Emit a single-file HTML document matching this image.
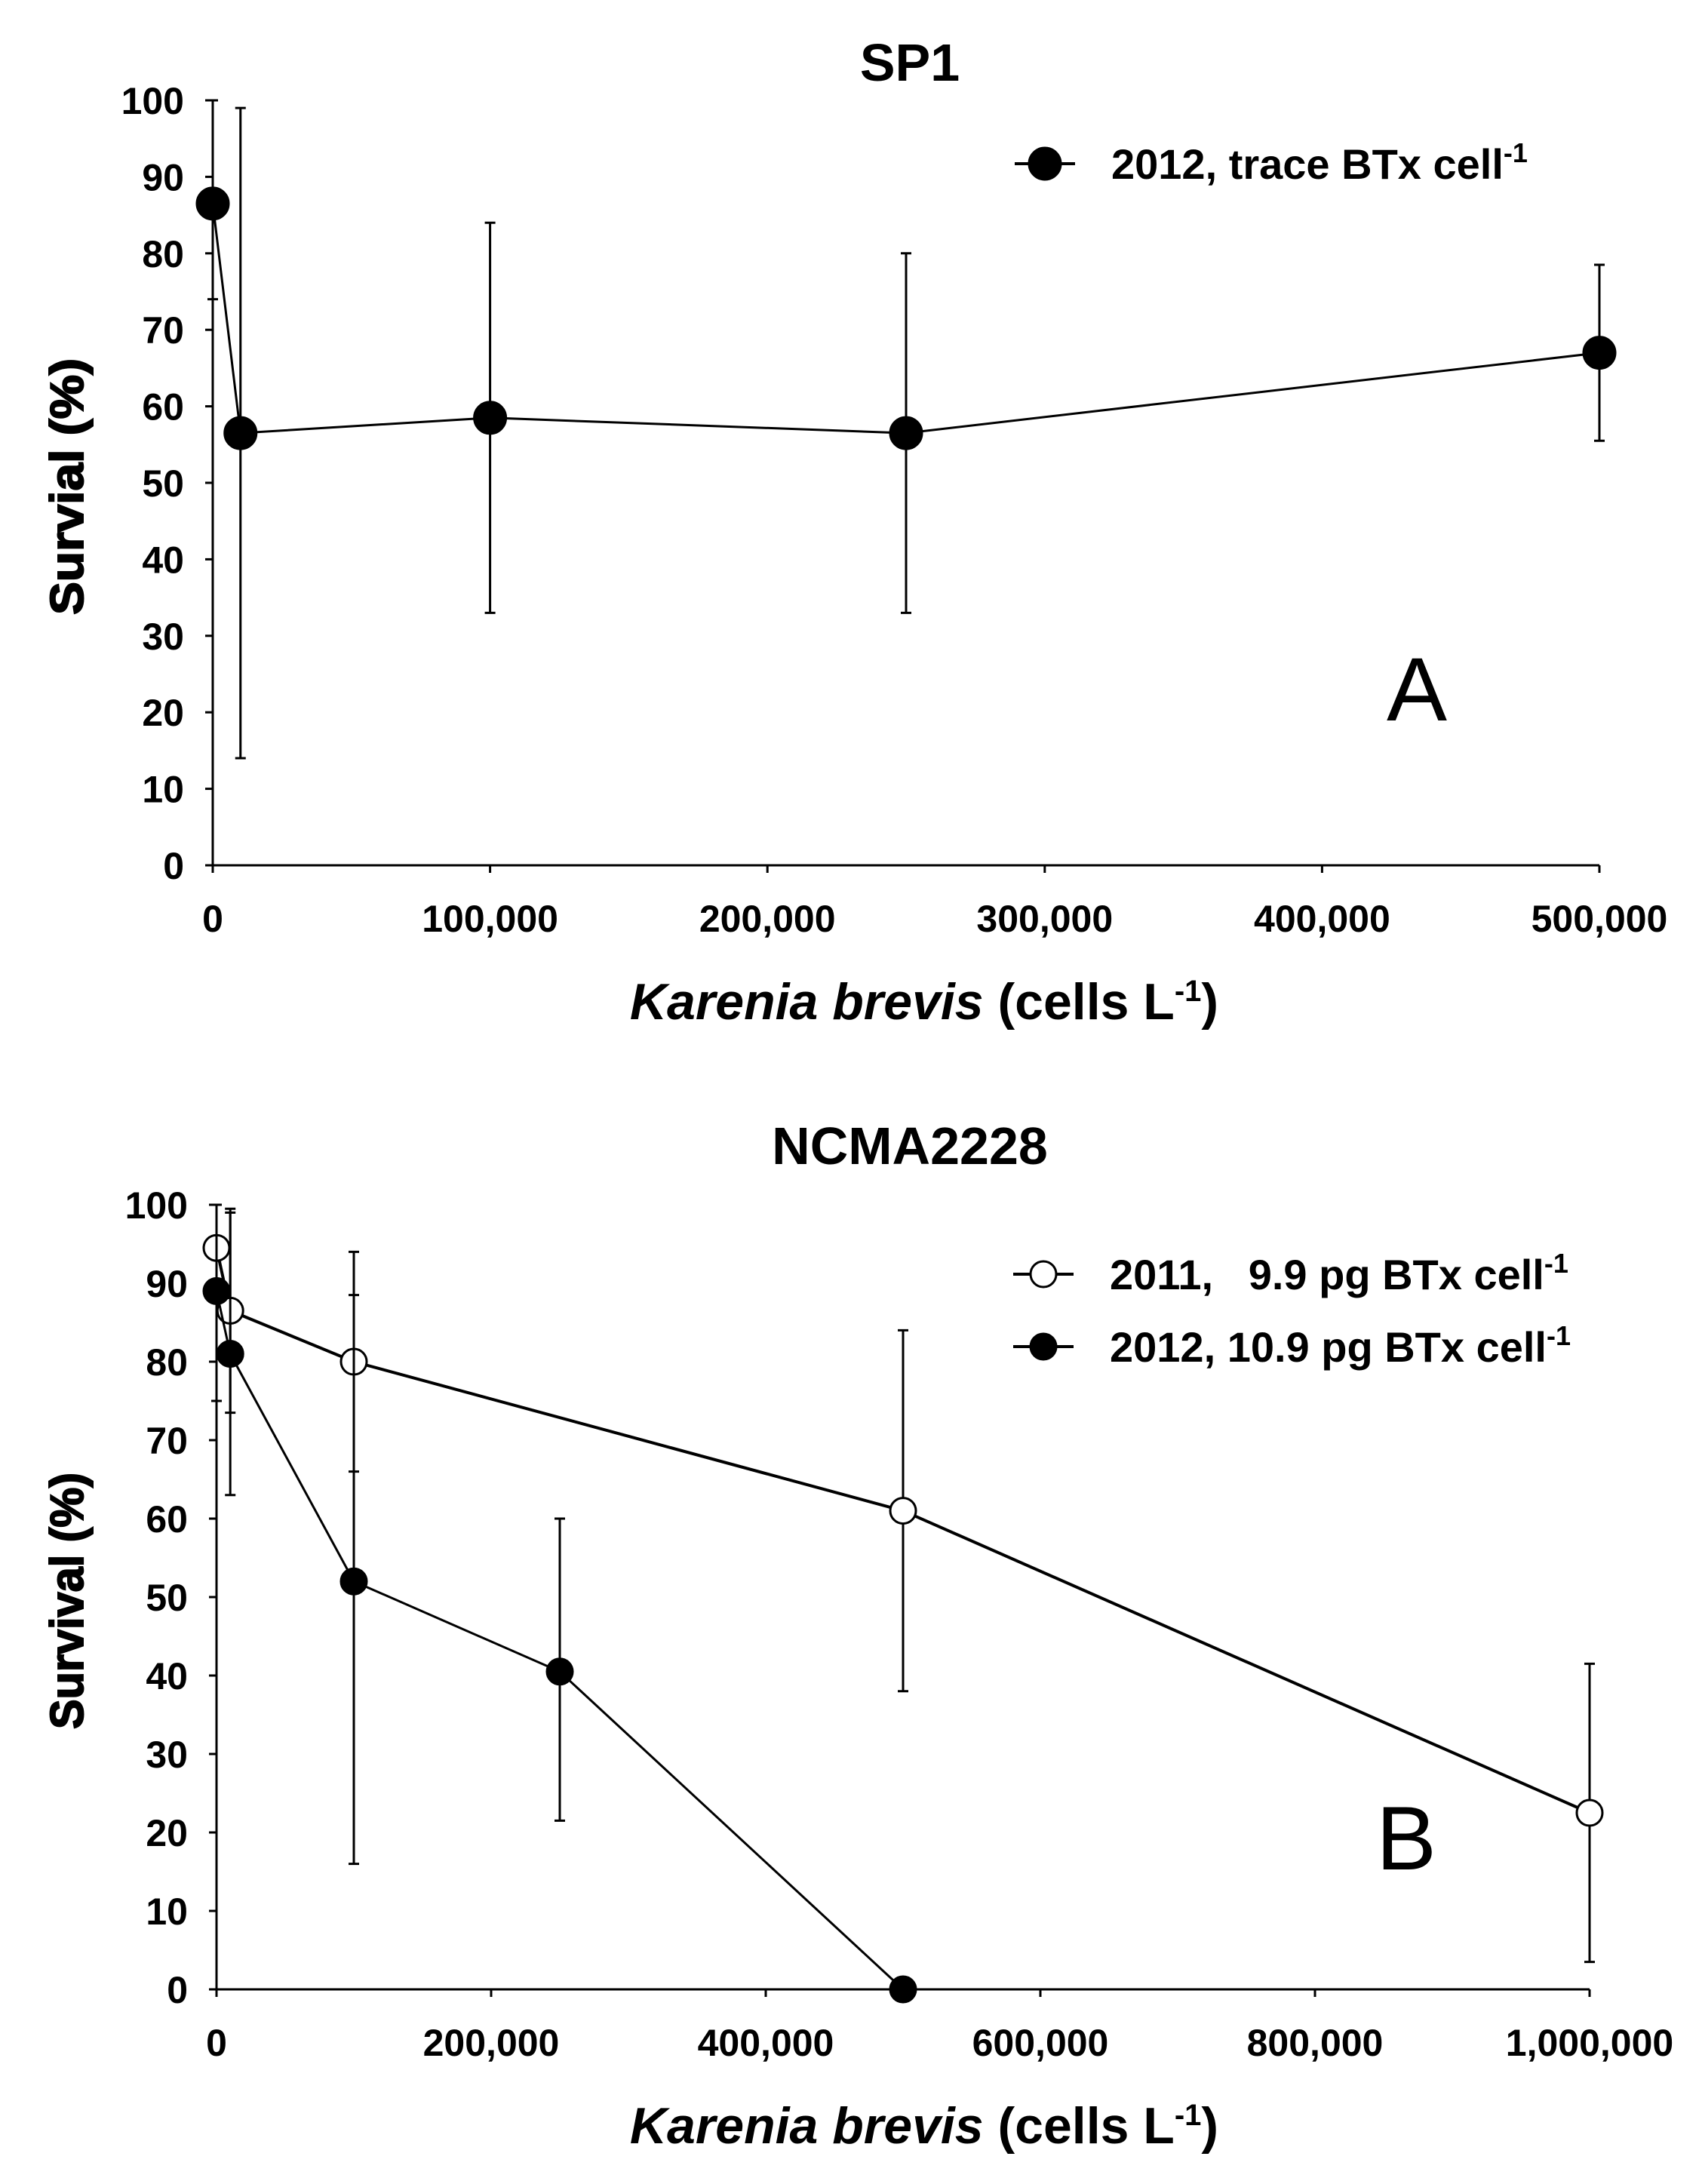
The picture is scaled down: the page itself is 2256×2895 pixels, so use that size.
<!DOCTYPE html>
<html><head><meta charset="utf-8"><style>
html,body{margin:0;padding:0;background:#fff;}
svg{display:block;font-family:"Liberation Sans Narrow","Liberation Sans",Arial,sans-serif;}
text{white-space:pre;}
</style></head><body>
<svg id="chart" width="2256" height="2895" viewBox="0 0 2256 2895" xmlns="http://www.w3.org/2000/svg"></svg>
<script>
// Panel A data
const aX = [0, 10000, 100000, 250000, 500000];
const aY = [86.5, 56.5, 58.5, 56.5, 67];
const aLo = [74, 14, 33, 33, 55.5];
const aHi = [100, 99, 84, 80, 78.5];
const aXTicks = [0, 100000, 200000, 300000, 400000, 500000];
const aXTickLabels = ["0", "100,000", "200,000", "300,000", "400,000", "500,000"];
// Panel B data
const bX2011 = [0, 10000, 100000, 500000, 1000000];
const bY2011 = [94.5, 86.5, 80, 61, 22.5];
const bLo2011 = [89, 73.5, 66, 38, 3.5];
const bHi2011 = [100, 99.5, 94, 84, 41.5];
const bX2012 = [0, 10000, 100000, 250000, 500000];
const bY2012 = [89, 81, 52, 40.5, 0];
const bLo2012 = [75, 63, 16, 21.5, 0];
const bHi2012 = [100, 99, 88.5, 60, 0];
const bXTicks = [0, 200000, 400000, 600000, 800000, 1000000];
const bXTickLabels = ["0", "200,000", "400,000", "600,000", "800,000", "1,000,000"];
const yTicks = [0,10,20,30,40,50,60,70,80,90,100];

const svg = document.getElementById('chart');
const NS = "http://www.w3.org/2000/svg";
function mk(tag, attrs, parent){
  const e = document.createElementNS(NS, tag);
  for (const k in attrs) e.setAttribute(k, attrs[k]);
  (parent||svg).appendChild(e);
  return e;
}
function txt(s, x, y, size, anchor, parent, weight){
  const t = mk('text', {x:x, y:y, 'font-size':size, 'text-anchor':anchor||'middle', 'font-weight':weight||'bold', fill:'#000'}, parent);
  t.textContent = s;
  return t;
}

function panel(cfg){
  const g = mk('g', {});
  
  
  const sx = v => cfg.x0 + v / cfg.xMax * (cfg.x1 - cfg.x0);
  const sy = v => cfg.y0 - v / 100 * (cfg.y0 - cfg.y1);
  const ax = mk('line', {x1:cfg.x0, y1:cfg.y0, x2:cfg.x1, y2:cfg.y0, stroke:'#000', 'stroke-width':3}, g);
  
  
  const ay = mk('line', {x1:cfg.x0, y1:cfg.y0, x2:cfg.x0, y2:cfg.y1, stroke:'#000', 'stroke-width':3}, g);
  
  
  yTicks.forEach(v => {
    mk('line', {x1:cfg.x0-10, y1:sy(v), x2:cfg.x0, y2:sy(v), stroke:'#000', 'stroke-width':3}, g);
    const t = txt(String(v), cfg.x0-38, sy(v)+18, 50, 'end', g);
    
    
  });
  cfg.xTicks.forEach((v, i) => {
    mk('line', {x1:sx(v), y1:cfg.y0, x2:sx(v), y2:cfg.y0+10, stroke:'#000', 'stroke-width':3}, g);
    const t = txt(cfg.xLabels[i], sx(v), cfg.y0+88, 50, 'middle', g);
    
    
  });
  const ti = txt(cfg.title, cfg.titleX, cfg.titleY, 70, 'middle', g);
  
  
  const yt = mk('text', {x:0, y:0, 'font-size':62, 'font-weight':'bold', 'text-anchor':'middle', 'font-family':'"Liberation Sans",Arial,sans-serif', stroke:'#000', 'stroke-width':2, textLength:340, lengthAdjust:'spacingAndGlyphs', transform:'translate(110,'+((cfg.y0+cfg.y1)/2+5)+') rotate(-90)'}, g);
  yt.textContent = cfg.yTitle;
  
  
  const xt = mk('text', {x:1225, y:cfg.y0+204, 'font-size':68, 'font-weight':'bold', 'text-anchor':'middle'}, g);
  xt.innerHTML = '<tspan font-style="italic">Karenia brevis</tspan> (cells L<tspan dy="-24" font-size="40">-1</tspan><tspan dy="24">)</tspan>';
  
  
  const pl = txt(cfg.letter, cfg.letterX, cfg.letterY, 120, 'middle', g, 'normal');
  
  
  cfg.series.forEach((s, si) => {
    const sg = mk('g', {}, g);
    
    
    s.x.forEach((xv, i) => {
      const X = sx(xv);
      if (s.hi[i] !== s.lo[i]) {
        const e = mk('path', {d:`M${X},${sy(s.lo[i])}V${sy(s.hi[i])}M${X-7},${sy(s.lo[i])}H${X+7}M${X-7},${sy(s.hi[i])}H${X+7}`, stroke:'#000', 'stroke-width':3, fill:'none'}, sg);
        
        
      }
    });
    const pts = s.x.map((xv,i)=>sx(xv)+','+sy(s.y[i])).join(' ');
    const pl2 = mk('polyline', {points:pts, fill:'none', stroke:'#000', 'stroke-width':s.lw}, sg);
    
    
    s.x.forEach((xv, i) => {
      const c = mk('circle', {cx:sx(xv), cy:sy(s.y[i]), r:cfg.r, fill:s.fill, stroke:'#000', 'stroke-width':3}, sg);
      
      
    });
    const L = cfg.legend[si];
    const lg = mk('g', {}, g);
    
    
    mk('line', {x1:L.x, y1:L.y, x2:L.x+80, y2:L.y, stroke:'#000', 'stroke-width':4}, lg);
    mk('circle', {cx:L.x+40, cy:L.y, r:cfg.r, fill:s.fill, stroke:'#000', 'stroke-width':3}, lg);
    const lt = mk('text', {x:L.x+128, y:L.y+20, 'font-size':56, 'font-weight':'bold'}, lg);
    lt.innerHTML = s.label + '<tspan dy="-22" font-size="36">-1</tspan>';
  });
}

panel({name:'panel-a-sp1', x0:282, x1:2120, y0:1147, y1:133, xMax:500000,
  xTicks:aXTicks, xLabels:aXTickLabels, title:'SP1', titleX:1206, titleY:107,
  yTitle:'Survial (%)', letter:'A', letterX:1878, letterY:955, r:21,
  series:[{name:'series-2012-trace', x:aX, y:aY, lo:aLo, hi:aHi, fill:'#000', lw:3, label:'2012, trace BTx cell'}],
  legend:[{x:1345, y:217}]});

panel({name:'panel-b-ncma2228', x0:287, x1:2107, y0:2637, y1:1597, xMax:1000000,
  xTicks:bXTicks, xLabels:bXTickLabels, title:'NCMA2228', titleX:1206, titleY:1543,
  yTitle:'Survival (%)', letter:'B', letterX:1864, letterY:2478, r:17,
  series:[
    {name:'series-2011', x:bX2011, y:bY2011, lo:bLo2011, hi:bHi2011, fill:'#fff', lw:4, label:'2011,   9.9 pg BTx cell'},
    {name:'series-2012', x:bX2012, y:bY2012, lo:bLo2012, hi:bHi2012, fill:'#000', lw:3, label:'2012, 10.9 pg BTx cell'}],
  legend:[{x:1343, y:1689},{x:1343, y:1785}]});
</script>
</body></html>
